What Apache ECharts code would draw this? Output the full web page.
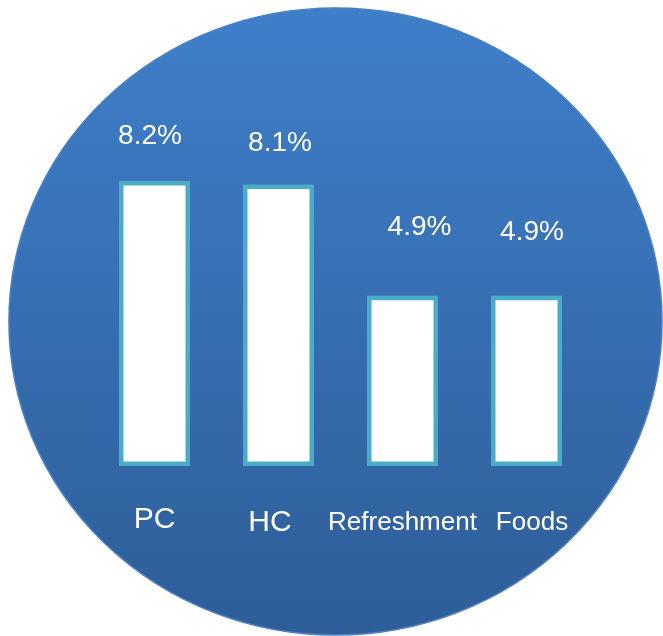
<!DOCTYPE html>
<html>
<head>
<meta charset="utf-8">
<script src="https://cdn.jsdelivr.net/npm/echarts@6/dist/echarts.min.js"></script>
<style>
  html, body { margin: 0; padding: 0; background: #ffffff; }
  #chart { width: 663px; height: 636px; }
</style>
</head>
<body>
<div id="chart"></div>
<script>
// Category growth rates (%)
const categories = ['PC', 'HC', 'Refreshment', 'Foods'];
const growth = [8.2, 8.1, 4.9, 4.9];

// Per-label nudges for the percentage captions [dx, dy]
const valueLabelOffsets = [[-4.5, -31], [1.5, -27], [17, -54], [5.5, -49]];

// Rich-text styles for the category captions under the bars
const FONT = 'Liberation Sans, Arial, sans-serif';
const catRich = {
  big:   { fontSize: 30, color: '#ffffff', fontFamily: FONT },
  bigL:  { fontSize: 30, color: '#ffffff', fontFamily: FONT, padding: [3, 17, 0, 0] },
  small: { fontSize: 26, color: '#ffffff', fontFamily: FONT, padding: [5, 0, 0, 0] },
  smallR:{ fontSize: 26, color: '#ffffff', fontFamily: FONT, padding: [5, 0, 0, 11] }
};
const catStyleKey = { PC: 'big', HC: 'bigL', Refreshment: 'small', Foods: 'smallR' };

const chart = echarts.init(document.getElementById('chart'), null, { renderer: 'canvas' });

const seriesData = growth.map((v, i) => ({
  value: v,
  label: { offset: valueLabelOffsets[i] }
}));

chart.setOption({
  animation: false,
  backgroundColor: '#ffffff',
  textStyle: { fontFamily: FONT },
  graphic: [{
    type: 'circle',
    x: 335.5,
    y: 321.5,
    scaleX: 1.0415,
    z: -10,
    shape: { cx: 0, cy: 0, r: 313.5 },
    style: {
      fill: new echarts.graphic.LinearGradient(0, 0, 0, 1, [
        { offset: 0, color: '#3f7fca' },
        { offset: 1, color: '#2e5d98' }
      ]),
      stroke: '#4a7fc2',
      lineWidth: 1.5
    }
  }],
  grid: { left: 92.5, width: 496, top: 118.5, height: 347.5, containLabel: false },
  xAxis: {
    type: 'category',
    data: categories,
    axisLine: { show: false },
    axisTick: { show: false },
    splitLine: { show: false },
    axisLabel: {
      margin: 39,
      interval: 0,
      color: '#ffffff',
      formatter: (v) => '{' + catStyleKey[v] + '|' + v + '}',
      rich: catRich
    }
  },
  yAxis: {
    type: 'value',
    min: 0,
    max: 10,
    show: false,
    splitLine: { show: false }
  },
  series: [{
    type: 'bar',
    data: seriesData,
    barWidth: 71,
    itemStyle: {
      color: '#ffffff',
      borderColor: '#4bacc6',
      borderWidth: 4.5
    },
    label: {
      show: true,
      position: 'top',
      distance: 0,
      color: '#ffffff',
      fontSize: 28,
      fontFamily: FONT,
      formatter: '{c}%'
    }
  }]
});
</script>
</body>
</html>
